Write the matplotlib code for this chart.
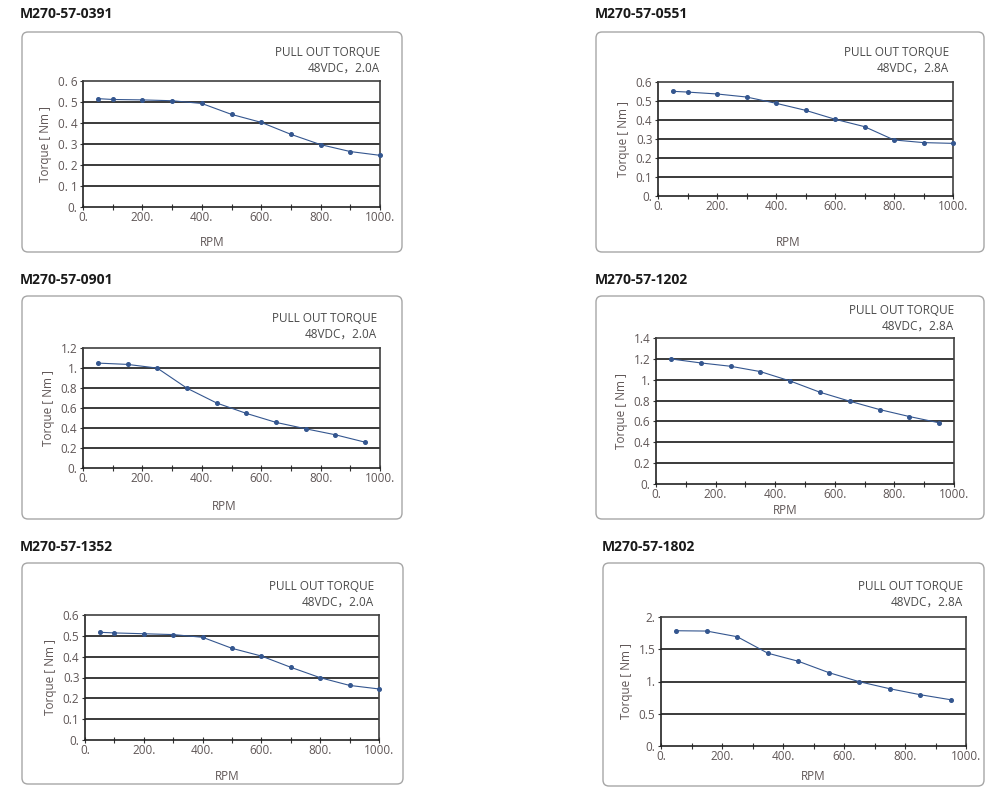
import matplotlib
matplotlib.use("Agg")
import matplotlib.pyplot as plt
from matplotlib.patches import FancyBboxPatch

plt.rcParams['font.family'] = ['Open Sans', 'Noto Sans CJK SC', 'DejaVu Sans']

W, H = 998, 802

titles = ["M270-57-0391", "M270-57-0551", "M270-57-0901",
          "M270-57-1202", "M270-57-1352", "M270-57-1802"]
subtitles = ["48VDC，2.0A", "48VDC，2.8A", "48VDC，2.0A",
             "48VDC，2.8A", "48VDC，2.0A", "48VDC，2.8A"]

rpm_a = [50, 100, 200, 300, 400, 500, 600, 700, 800, 900, 1000]
rpm_b = [50, 150, 250, 350, 450, 550, 650, 750, 850, 950]

torque_0391 = [0.516, 0.512, 0.510, 0.506, 0.493, 0.441, 0.403, 0.346, 0.297, 0.264, 0.246]
torque_0551 = [0.551, 0.547, 0.537, 0.521, 0.488, 0.451, 0.404, 0.365, 0.295, 0.281, 0.277]
torque_0901 = [1.049, 1.036, 0.999, 0.798, 0.650, 0.546, 0.456, 0.392, 0.332, 0.258]
torque_1202 = [1.199, 1.161, 1.129, 1.078, 0.988, 0.880, 0.794, 0.714, 0.647, 0.587]
torque_1352 = [0.517, 0.514, 0.510, 0.506, 0.493, 0.440, 0.403, 0.349, 0.299, 0.262, 0.245]
torque_1802 = [1.787, 1.782, 1.694, 1.439, 1.314, 1.138, 0.997, 0.888, 0.795, 0.717]

x_ticks = [0, 200, 400, 600, 800, 1000]
x_tick_labels = ["0.", "200.", "400.", "600.", "800.", "1000."]

y_ticks_06 = [0, 0.1, 0.2, 0.3, 0.4, 0.5, 0.6]
y_labels_0391 = ["0.", "0. 1", "0. 2", "0. 3", "0. 4", "0. 5", "0. 6"]
y_labels_06 = ["0.", "0.1", "0.2", "0.3", "0.4", "0.5", "0.6"]
y_ticks_12 = [0, 0.2, 0.4, 0.6, 0.8, 1.0, 1.2]
y_labels_12 = ["0.", "0.2", "0.4", "0.6", "0.8", "1.", "1.2"]
y_ticks_14 = [0, 0.2, 0.4, 0.6, 0.8, 1.0, 1.2, 1.4]
y_labels_14 = ["0.", "0.2", "0.4", "0.6", "0.8", "1.", "1.2", "1.4"]
y_ticks_20 = [0, 0.5, 1.0, 1.5, 2.0]
y_labels_20 = ["0.", "0.5", "1.", "1.5", "2."]

series = [
    (rpm_a, torque_0391, y_ticks_06, y_labels_0391),
    (rpm_a, torque_0551, y_ticks_06, y_labels_06),
    (rpm_b, torque_0901, y_ticks_12, y_labels_12),
    (rpm_b, torque_1202, y_ticks_14, y_labels_14),
    (rpm_a, torque_1352, y_ticks_06, y_labels_06),
    (rpm_b, torque_1802, y_ticks_20, y_labels_20),
]

# layout (pixels)
title_pos = [(20, 14), (595, 14), (20, 280), (595, 280), (20, 547), (602, 547)]
boxes = [(22, 32, 402, 252), (596, 32, 984, 252), (22, 296, 402, 519),
         (596, 296, 984, 519), (22, 563, 403, 784), (603, 563, 984, 786)]
axes_px = [(83, 81, 380, 207), (658, 82, 953, 196), (83, 348, 380, 468),
           (656, 338, 954, 484), (85, 615, 379, 740), (661, 617, 966, 746)]
sub_pos = [(380, 53), (949, 53), (377, 319), (954, 311), (374, 587), (963, 587)]
rpm_pos = [(212, 242), (788, 242), (224, 507), (785, 510), (227, 777), (813, 777)]

text_c = "#5f5656"
grid_c = "#2b2b2b"
line_c = "#34568f"

fig = plt.figure(figsize=(W / 100, H / 100), dpi=100)
bg = fig.add_axes([0, 0, 1, 1], zorder=-1)
bg.set_xlim(0, W)
bg.set_ylim(H, 0)
bg.axis("off")

for i in range(6):
    x0, y0, x1, y1 = boxes[i]
    bg.add_patch(FancyBboxPatch((x0, y0), x1 - x0, y1 - y0,
                                boxstyle="round,pad=0,rounding_size=6",
                                fc="white", ec="#a6a6a6", lw=1.0))
    tx, ty = title_pos[i]
    bg.text(tx, ty, titles[i], fontsize=10, fontweight="bold",
            color="#1a1a1a", ha="left", va="center")
    sx, sy = sub_pos[i]
    bg.text(sx, sy, "PULL OUT TORQUE", fontsize=8.5, color="#4a4a4a",
            ha="right", va="center")
    bg.text(sx, sy + 15, subtitles[i], fontsize=8.5, color="#4a4a4a",
            ha="right", va="center")
    rx, ry = rpm_pos[i]
    bg.text(rx, ry, "RPM", fontsize=8.5, color=text_c, ha="center", va="center")

    ax0, ay0, ax1, ay1 = axes_px[i]
    ax = fig.add_axes([ax0 / W, 1 - ay1 / H, (ax1 - ax0) / W, (ay1 - ay0) / H])
    xs, ys, yt, yl = series[i]
    ax.set_xlim(0, 1000)
    ax.set_ylim(0, yt[-1])
    for v in yt[1:-1]:
        ax.axhline(v, color=grid_c, lw=1.3, zorder=1)
    ax.plot(xs, ys, color=line_c, lw=0.8, marker="o", ms=2.6,
            mfc=line_c, mec=line_c, zorder=3, clip_on=False)
    ax.set_xticks(x_ticks)
    ax.set_xticklabels(x_tick_labels)
    ax.set_xticks(range(0, 1001, 100), minor=True)
    ax.set_yticks(yt)
    ax.set_yticklabels(yl)
    ax.tick_params(axis="x", which="both", direction="inout", length=4,
                   width=0.8, color="#333333", labelsize=8.5, labelcolor=text_c, pad=1)
    ax.tick_params(axis="y", which="both", direction="out", length=2,
                   width=0.8, color="#333333", labelsize=8.5, labelcolor=text_c, pad=2)
    for s in ["top", "right"]:
        ax.spines[s].set_color("#404040")
        ax.spines[s].set_linewidth(1.2)
    for s in ["left", "bottom"]:
        ax.spines[s].set_color("#222222")
        ax.spines[s].set_linewidth(1.2)
    ax.set_ylabel("Torque [ Nm ]", fontsize=8.5, color=text_c, labelpad=4)

fig.savefig("out.png", dpi=100)
